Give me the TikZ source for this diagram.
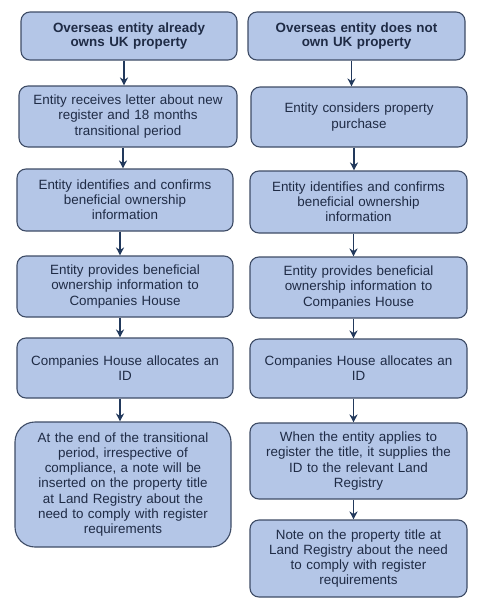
\documentclass[tikz,border=0pt]{standalone}
\usepackage{fontspec}
\setmainfont{Liberation Sans}
\usetikzlibrary{arrows.meta, positioning}
\definecolor{boxfill}{HTML}{B4C6E7}
\definecolor{boxline}{HTML}{3E4C66}
\definecolor{arrowline}{HTML}{22395C}
\definecolor{boxtext}{HTML}{1F2B45}

\begin{document}
\begin{tikzpicture}[x=1pt, y=-1pt, >={Stealth[length=8pt, width=8pt]},
    stepbox/.style={draw=boxline, line width=1.1pt, fill=boxfill,
                rounded corners=9pt, inner sep=0pt, align=center,
                text=boxtext, minimum width=216pt, text width=210pt,
                font=\fontsize{13.4}{15.2}\selectfont},
    headbox/.style={stepbox, font=\bfseries\fontsize{13.4}{14.8}\selectfont},
    flow/.style={->, draw=arrowline, line width=1.6pt}]
    \useasboundingbox (0,0) rectangle (486,605);

    % existing owner
    \node[headbox, minimum height=48pt] (L1) at (129,36)
        {Overseas entity already\\owns UK property};
    \node[stepbox, minimum width=218pt, minimum height=61pt] (L2) at (128,116.5)
        {Entity receives letter about new\\register and 18 months\\transitional period};
    \node[stepbox, minimum height=62pt] (L3) at (125,200)
        {Entity identifies and confirms\\beneficial ownership\\information};
    \node[stepbox, minimum height=61pt] (L4) at (125,286.5)
        {Entity provides beneficial\\ownership information to\\Companies House};
    \node[stepbox, minimum height=60pt] (L5) at (125,368)
        {Companies House allocates an\\ID};
    \node[stepbox, rounded corners=20pt, minimum height=125pt] (L6) at (123,484.5)
        {At the end of the transitional\\period, irrespective of\\compliance, a note will be\\inserted on the property title\\at Land Registry about the\\need to comply with register\\requirements};

    % new purchaser
    \node[headbox, minimum width=217pt, minimum height=48pt] (R1) at (356.5,36)
        {Overseas entity does not\\own UK property};
    \node[stepbox, minimum height=60pt] (R2) at (359,117)
        {Entity considers property\\purchase};
    \node[stepbox, minimum width=217pt, minimum height=62pt] (R3) at (358.5,202)
        {Entity identifies and confirms\\beneficial ownership\\information};
    \node[stepbox, minimum width=217pt, minimum height=61pt] (R4) at (358.5,287.5)
        {Entity provides beneficial\\ownership information to\\Companies House};
    \node[stepbox, minimum width=217pt, minimum height=59pt] (R5) at (358.5,368.5)
        {Companies House allocates an\\ID};
    \node[stepbox, minimum width=217pt, minimum height=76pt] (R6) at (358.5,461)
        {When the entity applies to\\register the title, it supplies the\\ID to the relevant Land\\Registry};
    \node[stepbox, minimum width=217pt, minimum height=77pt] (R7) at (358.5,558.5)
        {Note on the property title at\\Land Registry about the need\\to comply with register\\requirements};

    \foreach \a/\b in {L1/L2, L2/L3, L3/L4, L4/L5, L5/L6,
                       R1/R2, R2/R3, R3/R4, R4/R5, R5/R6, R6/R7}
        \draw[flow] ([xshift=-5pt]\a.south) -- ([xshift=-5pt]\a.south |- \b.north);
\end{tikzpicture}
\end{document}
